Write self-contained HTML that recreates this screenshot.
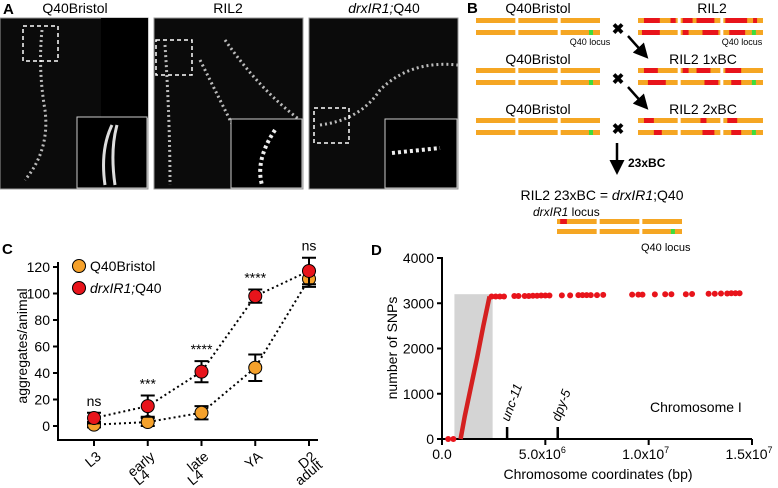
<!DOCTYPE html>
<html><head><meta charset="utf-8"><style>
body{margin:0;background:#fff}
svg{display:block;font-family:"Liberation Sans",sans-serif}
</style></head><body>
<svg width="778" height="488" viewBox="0 0 778 488">
<!-- Panel A -->
<g>
<text x="3" y="14" font-size="15" font-weight="bold">A</text>
<text x="75" y="13" font-size="14" text-anchor="middle">Q40Bristol</text>
<text x="228" y="13" font-size="14" text-anchor="middle">RIL2</text>
<text x="384" y="13" font-size="14" text-anchor="middle"><tspan font-style="italic">drxIR1;</tspan>Q40</text>
<rect x="0" y="18" width="148" height="171" fill="#0b0b0b" stroke="#999"/>
<rect x="101" y="18" width="47" height="100" fill="#000"/>
<path d="M42 30 Q38 70 45 110 Q50 150 25 180" stroke="#bbb" stroke-width="3" fill="none" stroke-dasharray="2 3"/>
<rect x="23" y="26" width="35" height="35" fill="none" stroke="#fff" stroke-width="1.5" stroke-dasharray="4 3"/>
<rect x="77" y="117" width="70" height="71" fill="#000" stroke="#ccc"/>
<path d="M112 125 Q100 150 105 185 M117 125 Q110 150 115 185" stroke="#ddd" stroke-width="3" fill="none"/>
<rect x="154" y="18" width="149" height="171" fill="#0b0b0b" stroke="#999"/>
<path d="M165 45 Q170 120 170 185 M200 60 Q220 100 235 130 M225 40 Q260 90 300 120" stroke="#bbb" stroke-width="3" fill="none" stroke-dasharray="2 3"/>
<rect x="156" y="40" width="36" height="35" fill="none" stroke="#fff" stroke-width="1.5" stroke-dasharray="4 3"/>
<rect x="231" y="119" width="71" height="69" fill="#000" stroke="#ccc"/>
<path d="M275 130 Q255 160 262 185" stroke="#eee" stroke-width="4" fill="none" stroke-dasharray="3 3"/>
<rect x="309" y="18" width="149" height="171" fill="#0b0b0b" stroke="#999"/>
<path d="M320 125 Q360 120 380 90 Q410 60 458 65" stroke="#bbb" stroke-width="3" fill="none" stroke-dasharray="2 3"/>
<rect x="314" y="108" width="35" height="35" fill="none" stroke="#fff" stroke-width="1.5" stroke-dasharray="4 3"/>
<rect x="385" y="119" width="72" height="69" fill="#000" stroke="#ccc"/>
<path d="M392 153 L440 148" stroke="#eee" stroke-width="4" fill="none" stroke-dasharray="3 3"/>
</g>
<!-- Panel B -->
<g id="pb">
<text x="467" y="13" font-size="15" font-weight="bold">B</text>
<text x="538" y="13" font-size="14" text-anchor="middle">Q40Bristol</text>
<text x="712" y="13" font-size="14" text-anchor="middle">RIL2</text>
<text x="538" y="64" font-size="14" text-anchor="middle">Q40Bristol</text>
<text x="703" y="64" font-size="14" text-anchor="middle">RIL2 1xBC</text>
<text x="538" y="114" font-size="14" text-anchor="middle">Q40Bristol</text>
<text x="703" y="114" font-size="14" text-anchor="middle">RIL2 2xBC</text>
<text x="590" y="45" font-size="9" text-anchor="middle">Q40 locus</text>
<text x="742" y="45" font-size="9" text-anchor="middle">Q40 locus</text>
<text x="618" y="34" font-size="15" font-weight="bold" text-anchor="middle">✖</text>
<text x="618" y="84" font-size="15" font-weight="bold" text-anchor="middle">✖</text>
<text x="618" y="134" font-size="15" font-weight="bold" text-anchor="middle">✖</text>
<defs><marker id="ah" markerWidth="6" markerHeight="6" refX="4" refY="3" orient="auto"><path d="M0 0 L6 3 L0 6 z" fill="#000"/></marker></defs>
<line x1="628" y1="36" x2="645" y2="55" stroke="#000" stroke-width="2.5" marker-end="url(#ah)"/>
<line x1="628" y1="87" x2="645" y2="106" stroke="#000" stroke-width="2.5" marker-end="url(#ah)"/>
<line x1="617" y1="143" x2="617" y2="170" stroke="#000" stroke-width="2.5" marker-end="url(#ah)"/>
<text x="628" y="167" font-size="12" font-weight="bold">23xBC</text>
<text x="602" y="200" font-size="14" text-anchor="middle">RIL2 23xBC = <tspan font-style="italic">drxIR1</tspan>;Q40</text>
<text x="533" y="216" font-size="12"><tspan font-style="italic">drxIR1</tspan> locus</text>
<text x="641" y="251" font-size="11">Q40 locus</text>
</g>
<!-- Panel C -->
<g id="pc">
<text x="2" y="254" font-size="15" font-weight="bold">C</text>
<text transform="translate(27,346) rotate(-90)" font-size="14" text-anchor="middle">aggregates/animal</text>
</g>
<!-- Panel D -->
<g id="pd">
<text x="371" y="255" font-size="15" font-weight="bold">D</text>
<text transform="translate(397,348) rotate(-90)" font-size="14" text-anchor="middle">number of SNPs</text>
<text x="598" y="479" font-size="14" text-anchor="middle">Chromosome coordinates (bp)</text>
<text x="650" y="412" font-size="14">Chromosome I</text>
</g>
</svg>
<script>
const NS="http://www.w3.org/2000/svg";
function mk(p,tag,a,txt){const e=document.createElementNS(NS,tag);for(const k in a)e.setAttribute(k,a[k]);if(txt!==undefined)e.textContent=txt;p.appendChild(e);return e;}
// ---- Panel B chromosomes ----
const pb=document.getElementById('pb');
const rowYs=[18,30,68,80,118,130];
const redSegs=[[[0,0.15,0.55],[0,0.82,0.95],[1,0.05,0.3],[1,0.4,0.85],[2,0.05,0.6],[2,0.75,0.85]],
[[0,0.1,0.55],[1,0.05,0.2],[1,0.55,0.95],[2,0.15,0.55]],
[[0,0.15,0.5],[1,0.05,0.2],[1,0.4,0.75],[2,0.05,0.45]],
[[0,0.25,0.7],[1,0.6,0.95],[2,0.2,0.45]],
[[0,0.15,0.4],[1,0.5,0.65],[2,0.1,0.35]],
[[0,0.4,0.6],[1,0.55,0.85],[2,0.2,0.45]]];
function chrom(x0,y,total,reds,green){
 const segW=(total-6)/3;
 for(let s=0;s<3;s++){
  const sx=x0+s*(segW+3);
  const r=mk(pb,'rect',{x:sx,y:y,width:segW,height:5,fill:'#f5a623'});
  
  
  (reds||[]).filter(d=>d[0]===s).forEach(d=>mk(pb,'rect',{x:sx+d[1]*segW,y:y,width:(d[2]-d[1])*segW,height:5,fill:'#e8141b'}));
  if(green&&s===2)mk(pb,'rect',{x:sx+segW*0.72,y:y,width:4,height:5,fill:'#3ddc3d'});
 }
}
rowYs.forEach((y,i)=>{
 chrom(476,y,124,null,i%2===1);
 chrom(638,y,125,redSegs[i],i%2===1);
});
chrom(557,219,125,[[0,0.08,0.25]],false);
chrom(557,229,125,null,true);
// ---- Panel C ----
const cats=["L3","early L4","late L4","YA","D2 adult"];
const catLines=[["L3"],["early","L4"],["late","L4"],["YA"],["D2","adult"]];
const bristol=[1,3,10,44,111];
const bristolErr=[2,3,5,10,6];
const drx=[6,15,41,98,117];
const drxErr=[4,8,8,5,10];
const sig=["ns","***","****","****","ns"];
const yTicksC=[0,20,40,60,80,100,120];
const pc=document.getElementById('pc');
const cx=i=>94+i*53.75, cy=v=>426-v*159/120;
let ax=mk(pc,'path',{d:'M58 262 V440 H318',stroke:'#000','stroke-width':2,fill:'none'});

yTicksC.forEach(v=>{mk(pc,'line',{x1:53,x2:58,y1:cy(v),y2:cy(v),stroke:'#000','stroke-width':2});
 const t=mk(pc,'text',{x:50,y:cy(v)+5,'font-size':14,'text-anchor':'end'},v);
 });
cats.forEach((c,i)=>{mk(pc,'line',{x1:cx(i),x2:cx(i),y1:440,y2:446,stroke:'#000','stroke-width':2});
 const g=mk(pc,'g',{});
 
 const x1=cx(i)+8, y1=458;
 mk(g,'text',{x:x1,y:y1,'font-size':14,'text-anchor':'end',transform:`rotate(-40 ${x1} ${y1})`},catLines[i][0]);
 if(catLines[i][1]){const x2=cx(i)-9,y2=486;
  mk(g,'text',{x:x2,y:y2,'font-size':14,'text-anchor':'start',transform:`rotate(-40 ${x2} ${y2})`},catLines[i][1]);}
 const s=mk(pc,'text',{x:cx(i),y:cy(Math.max(drx[i]+drxErr[i],bristol[i]+bristolErr[i]))-7,'font-size':14,'text-anchor':'middle'},sig[i]);
 });
function series(vals,errs,col,name){
 const l=mk(pc,'polyline',{points:vals.map((v,i)=>cx(i)+','+cy(v)).join(' '),fill:'none',stroke:'#000','stroke-width':2,'stroke-dasharray':'2 3'});
 
 vals.forEach((v,i)=>{
  const e=mk(pc,'path',{d:`M${cx(i)-7} ${cy(v+errs[i])} h14 M${cx(i)} ${cy(v+errs[i])} V${cy(v-errs[i])} M${cx(i)-7} ${cy(v-errs[i])} h14`,stroke:'#000','stroke-width':2,fill:'none'});
  
  const p=mk(pc,'circle',{cx:cx(i),cy:cy(v),r:6.5,fill:col,stroke:'#000','stroke-width':1});
  
 });
}
series(bristol,bristolErr,'#f5a12b','q40bristol');
series(drx,drxErr,'#e8141b','drxir1');
[['#f5a12b','Q40Bristol',266],['#e8141b','drxIR1;Q40',288]].forEach(([c,t,y],i)=>{
 const g=mk(pc,'g',{});
 mk(g,'circle',{cx:79,cy:y,r:6.5,fill:c,stroke:'#000'});
 const tx=mk(g,'text',{x:90,y:y+5,'font-size':14});
 if(i===0)tx.textContent=t;else{mk(tx,'tspan',{'font-style':'italic'},'drxIR1;');mk(tx,'tspan',{},'Q40');}
});
// ---- Panel D ----
const pd=document.getElementById('pd');
const xTicksD=[0,5e6,1e7,1.5e7];
const xTickLabels=["0.0","5.0x10","1.0x10","1.5x10"];
const xTickExp=["","6","7","7"];
const yTicksD=[0,1000,2000,3000,4000];
const rampX=[0.9e6,1.1e6,1.4e6,1.7e6,2.0e6,2.3e6];
const rampY=[0,500,1150,1800,2500,3150];
const lowX=[0.3e6,0.55e6];
const lowY=[0,0];
const plateauX=[2.4e6,2.6e6,2.8e6,3.0e6,3.5e6,3.7e6,4.0e6,4.2e6,4.4e6,4.6e6,4.8e6,5.0e6,5.2e6,5.8e6,6.2e6,6.6e6,6.8e6,7.0e6,7.2e6,7.5e6,7.8e6,9.2e6,9.5e6,9.7e6,10.3e6,10.8e6,11.1e6,11.8e6,12.1e6,12.9e6,13.2e6,13.5e6,13.8e6,14.0e6,14.2e6,14.4e6];
const plateauY=[3150,3150,3150,3150,3160,3160,3160,3160,3165,3165,3170,3170,3170,3175,3175,3180,3180,3180,3180,3180,3185,3190,3190,3190,3195,3200,3200,3200,3205,3210,3210,3215,3215,3220,3220,3220];
const markerX=[3.15e6,5.6e6];
const markerNames=["unc-11","dpy-5"];
const shadeRange=[0.6e6,2.45e6,3200];
const dx=v=>442+v*310/1.5e7, dy=v=>439-v*181/4000;
const sh=mk(pd,'rect',{x:dx(shadeRange[0]),y:dy(shadeRange[2]),width:dx(shadeRange[1])-dx(shadeRange[0]),height:dy(0)-dy(shadeRange[2]),fill:'#d4d4d4'});

ax=mk(pd,'path',{d:'M442 257 V439 H752',stroke:'#000','stroke-width':2,fill:'none'});

yTicksD.forEach(v=>{mk(pd,'line',{x1:437,x2:442,y1:dy(v),y2:dy(v),stroke:'#000','stroke-width':2});
 const t=mk(pd,'text',{x:434,y:dy(v)+5,'font-size':14,'text-anchor':'end'},v);
 });
xTicksD.forEach((v,i)=>{mk(pd,'line',{x1:dx(v),x2:dx(v),y1:439,y2:445,stroke:'#000','stroke-width':2});
 const t=mk(pd,'text',{x:dx(v)-(i?3:0),y:459,'font-size':14,'text-anchor':'middle'},xTickLabels[i]);
 if(xTickExp[i])mk(t,'tspan',{dy:-6,'font-size':9},xTickExp[i]);
 });
markerX.forEach((v,i)=>{mk(pd,'line',{x1:dx(v),x2:dx(v),y1:427,y2:439,stroke:'#000','stroke-width':2.5});
 const t=mk(pd,'text',{transform:`translate(${dx(v)+2},${422}) rotate(-70)`,'font-size':13,'font-style':'italic'},markerNames[i]);
 });
const ramp=mk(pd,'polyline',{points:rampX.map((x,i)=>dx(x)+','+dy(rampY[i])).join(' '),fill:'none',stroke:'#d42020','stroke-width':4.5});

lowX.concat(plateauX).forEach((x,i)=>{const y=i<lowX.length?lowY[i]:plateauY[i-lowX.length];
 const c=mk(pd,'circle',{cx:dx(x),cy:dy(y),r:3,fill:'#e8141b'});
 });
</script>
</body></html>
